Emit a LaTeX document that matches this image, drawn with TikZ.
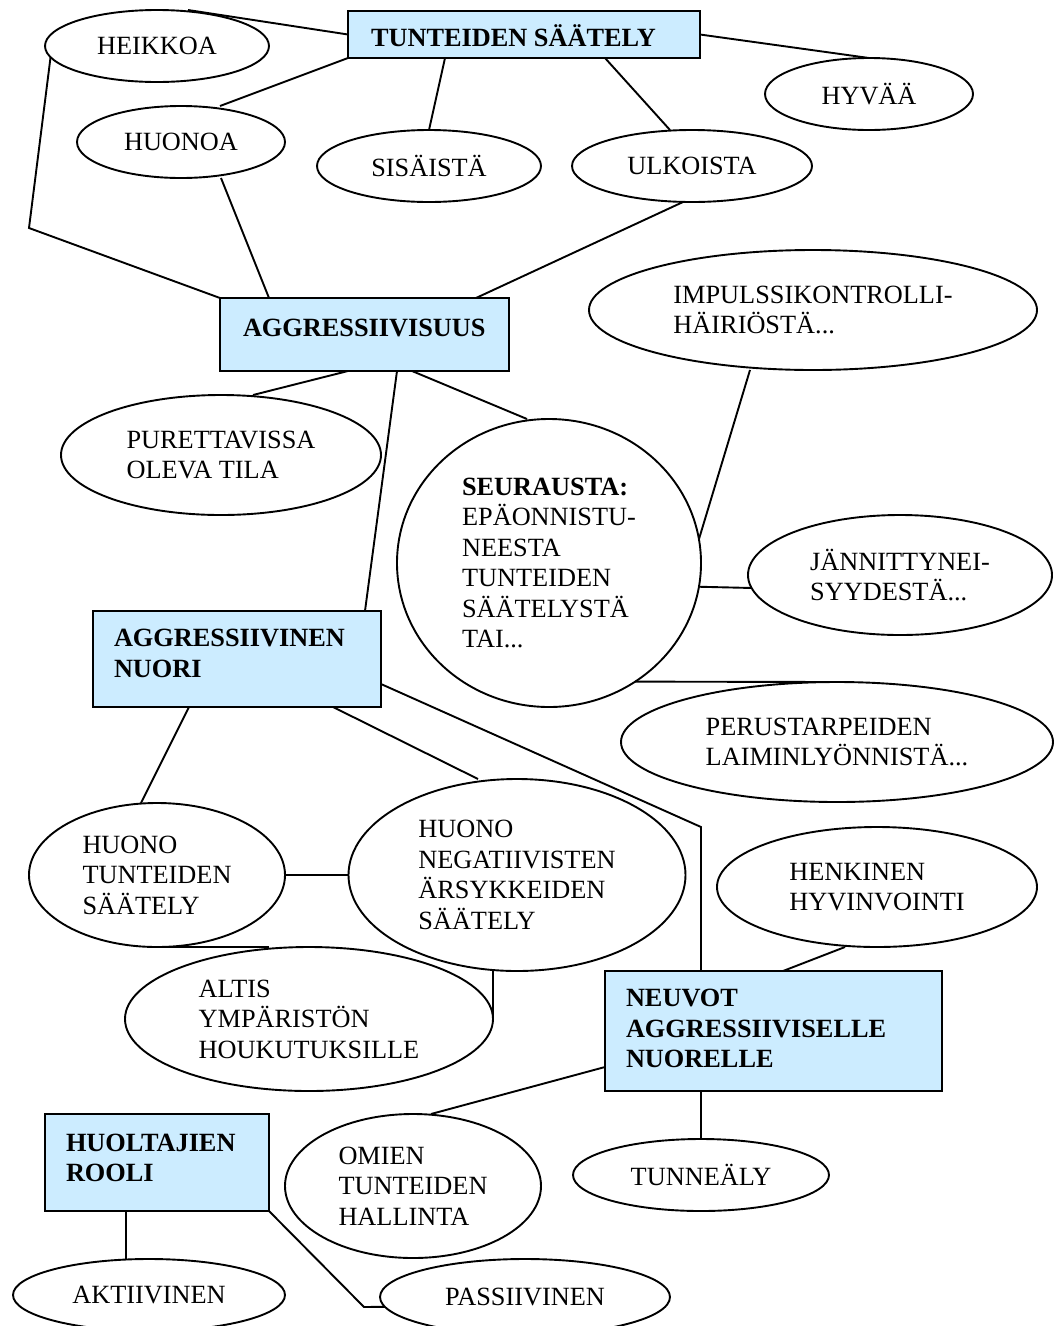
\documentclass[tikz,border=0pt]{standalone}
\usepackage{fontspec}
\setmainfont{Liberation Serif}
\usetikzlibrary{shapes.geometric}
\definecolor{boxblue}{HTML}{CCECFF}
\begin{document}
\begin{tikzpicture}[x=1pt,y=-1pt,line width=1.9pt,
  every node/.style={font=\fontsize{26.3}{30.5}\selectfont},
  oval/.style={draw,ellipse,inner sep=0pt,outer sep=0pt,align=left},
  panel/.style={draw,rectangle,fill=boxblue,inner sep=0pt,outer sep=0pt},
  paneltext/.style={inner sep=0pt,outer sep=0pt,align=left,
    font=\fontsize{26.3}{30.5}\selectfont\bfseries}]
\path[fill=white] (0,0) rectangle (1056,1326);
\useasboundingbox (0,0) rectangle (1056,1326);

% ---- boxes ----
\node[panel,minimum width=352pt,minimum height=47pt] (ts) at (524,34.5) {};
\node[paneltext,anchor=base west] (ts-t) at ([xshift=23pt,yshift=-35pt]ts.north west) {TUNTEIDEN SÄÄTELY};

\node[panel,minimum width=289pt,minimum height=73pt] (agg) at (364.5,334.5) {};
\node[paneltext,anchor=base west] (agg-t) at ([xshift=23pt,yshift=-38pt]agg.north west) {AGGRESSIIVISUUS};

\node[panel,minimum width=288pt,minimum height=96pt] (an) at (237,659) {};
\node[paneltext,anchor=north west] (an-t) at ([xshift=21pt,yshift=-18.4pt]an.north west) {AGGRESSIIVINEN\\NUORI};

\node[panel,minimum width=337pt,minimum height=120pt] (neu) at (773.5,1031) {};
\node[paneltext,anchor=north west] (neu-t) at ([xshift=21pt,yshift=-18.4pt]neu.north west) {NEUVOT\\AGGRESSIIVISELLE\\NUORELLE};

\node[panel,minimum width=224pt,minimum height=97pt] (huo) at (157,1162.5) {};
\node[paneltext,anchor=north west] (huo-t) at ([xshift=21pt,yshift=-20pt]huo.north west) {HUOLTAJIEN\\ROOLI};

% ---- ovals ----
\node[oval,minimum width=224pt,minimum height=72pt] (heik) at (157,46) {HEIKKOA};
\node[oval,minimum width=208pt,minimum height=72pt] (huonoa) at (181,142) {HUONOA};
\node[oval,minimum width=224pt,minimum height=72pt] (sis) at (429,166) {SISÄISTÄ};
\node[oval,minimum width=240pt,minimum height=72pt] (ulk) at (692,166) {ULKOISTA};
\node[oval,minimum width=208pt,minimum height=72pt] (hyv) at (869,94) {HYVÄÄ};
\node[oval,minimum width=448pt,minimum height=120pt] (imp) at (813,310) {IMPULSSIKONTROLLI-\\HÄIRIÖSTÄ...};
\node[oval,minimum width=320pt,minimum height=120pt] (pur) at (221,455) {PURETTAVISSA\\OLEVA TILA};
\node[oval,minimum width=304pt,minimum height=288pt] (seu) at (549,563)
  {\textbf{SEURAUSTA:}\\EPÄONNISTU-\\NEESTA\\TUNTEIDEN\\SÄÄTELYSTÄ\\TAI...};
\node[oval,minimum width=304pt,minimum height=120pt] (jan) at (900,575) {JÄNNITTYNEI-\\SYYDESTÄ...};
\node[oval,minimum width=432pt,minimum height=120pt] (per) at (837,742) {PERUSTARPEIDEN\\LAIMINLYÖNNISTÄ...};
\node[oval,minimum width=320pt,minimum height=120pt] (hen) at (877,887) {HENKINEN\\HYVINVOINTI};
\node[oval,minimum width=256pt,minimum height=144pt] (ht) at (157,875) {HUONO\\TUNTEIDEN\\SÄÄTELY};
\node[oval,minimum width=337pt,minimum height=192pt] (hn) at (517,875) {HUONO\\NEGATIIVISTEN\\ÄRSYKKEIDEN\\SÄÄTELY};
\node[oval,minimum width=368pt,minimum height=144pt] (alt) at (309,1019) {ALTIS\\YMPÄRISTÖN\\HOUKUTUKSILLE};
\node[oval,minimum width=256pt,minimum height=144pt] (omi) at (413,1186) {OMIEN\\TUNTEIDEN\\HALLINTA};
\node[oval,minimum width=256pt,minimum height=72pt] (tun) at (701,1175) {TUNNEÄLY};
\node[oval,minimum width=272pt,minimum height=72pt] (akt) at (149,1295) {AKTIIVINEN};
\node[oval,minimum width=290pt,minimum height=76pt] (pas) at (525,1297) {PASSIIVINEN};

% ---- bend points ----
\coordinate (c1) at (29,228);
\coordinate (c2) at (701,827);
\coordinate (c3) at (364,1307);
\coordinate (h1) at ([xshift=81pt]huo.south west);

% ---- connectors ----
\draw ([xshift=31pt]heik.north) -- (ts.west);
\draw (ts.south west) -- ([xshift=39pt]huonoa.north);
\draw ([xshift=97pt]ts.south west) -- (sis.north);
\draw ([xshift=257pt]ts.south west) -- ([xshift=-22pt]ulk.north);
\draw (ts.east) -- (hyv.north);
\draw (heik.186) -- (c1) -- (agg.north west);
\draw ([xshift=40pt]huonoa.south) -- ([xshift=49pt]agg.north west);
\draw ([xshift=-9pt]ulk.south) -- ([xshift=-33pt]agg.north east);
\draw ([xshift=128pt]agg.south west) -- ([xshift=32pt]pur.north);
\draw ([xshift=177pt]agg.south west) -- ([xshift=-16pt]an.north east);
\draw ([xshift=192pt]agg.south west) -- ([xshift=-22pt]seu.north);
\draw (seu.9) -- ([xshift=-63pt]imp.south);
\draw (seu.-9) -- (jan.185);
\draw (seu.-54) -- (per.north);
\draw ([yshift=-25pt]an.east) -- (c2) -- ([xshift=96pt]neu.north west);
\draw ([xshift=240pt]an.south west) -- ([xshift=-39pt]hn.north);
\draw ([xshift=96pt]an.south west) -- ([xshift=-16pt]ht.north);
\draw (ht.east) -- (hn.west);
\draw (ht.south) -- ([xshift=-40pt]alt.north);
\draw (alt.east) -- (alt.east |- hn.south);
\draw ([xshift=-32pt]hen.south) -- ([xshift=178pt]neu.north west);
\draw ([yshift=-36pt]neu.west) -- ([xshift=18pt]omi.north);
\draw ([xshift=96pt]neu.south west) -- (tun.north);
\draw (h1) -- (h1 |- akt.north);
\draw (huo.south east) -- (c3) -- (pas.184);
\end{tikzpicture}
\end{document}
